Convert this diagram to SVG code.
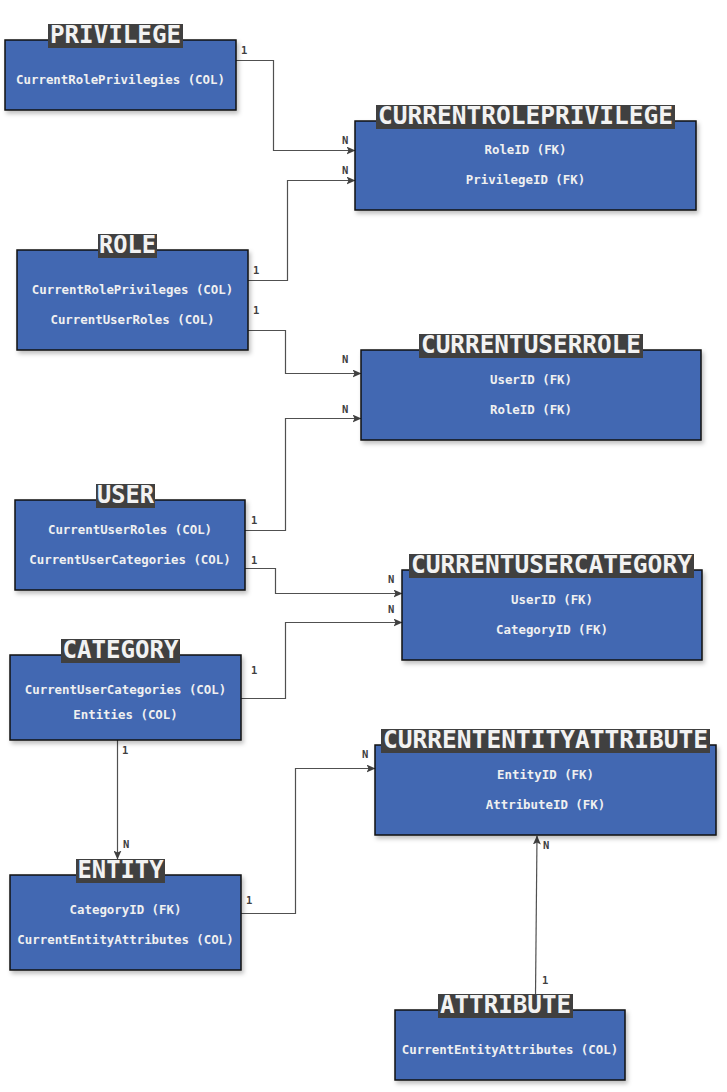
<svg xmlns="http://www.w3.org/2000/svg" width="727" height="1092" viewBox="0 0 727 1092">
<defs>
<filter id="sh" x="-10%" y="-10%" width="130%" height="140%"><feDropShadow dx="2" dy="3" stdDeviation="2" flood-color="#000" flood-opacity="0.25"/></filter>
<marker id="arr" markerWidth="9" markerHeight="8" refX="8.5" refY="4" orient="auto" markerUnits="userSpaceOnUse"><path d="M0,0 L9,4 L0,8 L2,4 z" fill="#404040"/></marker>
</defs>
<style>
.box{fill:#4267B2;stroke:#111;stroke-width:1.5;filter:url(#sh)}
.tbg{fill:#404040}
.ttl{font-family:"DejaVu Sans Mono","Liberation Mono",monospace;font-weight:bold;font-size:24px;fill:#f2f2f2;text-anchor:middle}
.fld{font-family:"DejaVu Sans Mono","Liberation Mono",monospace;font-weight:bold;font-size:12.4px;fill:#f0f0f0;text-anchor:middle}
.con{fill:none;stroke:#505050;stroke-width:1.2;marker-end:url(#arr)}
.lbl{font-family:"DejaVu Sans Mono","Liberation Mono",monospace;font-weight:bold;font-size:10.5px;fill:#404040}
</style>
<rect width="727" height="1092" fill="#fff"/>
<g id="connectors">
<path class="con" d="M236,60.5 H273.5 V150.5 H355"/>
<path class="con" d="M248,280.5 H287.5 V180.5 H355"/>
<path class="con" d="M248,330.5 H285.5 V373.5 H361"/>
<path class="con" d="M245,530.5 H285.5 V418.5 H361"/>
<path class="con" d="M245,568.5 H275.5 V593.5 H402"/>
<path class="con" d="M241,698.5 H285.5 V622.5 H402"/>
<path class="con" d="M117.5,740 V859"/>
<path class="con" d="M241,913.5 H295.5 V768.5 H375"/>
<path class="con" d="M535.5,995 L537,836"/>
<text class="lbl" x="241" y="54">1</text>
<text class="lbl" x="342" y="144">N</text>
<text class="lbl" x="342" y="174">N</text>
<text class="lbl" x="253" y="274">1</text>
<text class="lbl" x="253" y="314">1</text>
<text class="lbl" x="342" y="363">N</text>
<text class="lbl" x="342" y="413">N</text>
<text class="lbl" x="251" y="524">1</text>
<text class="lbl" x="251" y="564">1</text>
<text class="lbl" x="388" y="583">N</text>
<text class="lbl" x="388" y="613">N</text>
<text class="lbl" x="251" y="674">1</text>
<text class="lbl" x="122" y="754">1</text>
<text class="lbl" x="123" y="848">N</text>
<text class="lbl" x="246" y="904">1</text>
<text class="lbl" x="362" y="758">N</text>
<text class="lbl" x="542" y="984">1</text>
<text class="lbl" x="543" y="849">N</text>
</g>
<g id="privilege">
<rect class="box" x="5" y="40" width="231" height="70"/>
<rect class="tbg" x="48" y="24" width="135" height="24"/>
<text class="ttl" x="115.5" y="43" textLength="131" lengthAdjust="spacingAndGlyphs">PRIVILEGE</text>
<text class="fld" x="120.5" y="84">CurrentRolePrivilegies (COL)</text>
</g>
<g id="currentroleprivilege">
<rect class="box" x="355" y="121" width="341" height="89"/>
<rect class="tbg" x="376" y="105" width="299" height="24"/>
<text class="ttl" x="525.5" y="124" textLength="295" lengthAdjust="spacingAndGlyphs">CURRENTROLEPRIVILEGE</text>
<text class="fld" x="525.5" y="154">RoleID (FK)</text>
<text class="fld" x="525.5" y="184">PrivilegeID (FK)</text>
</g>
<g id="role">
<rect class="box" x="17" y="250" width="231" height="100"/>
<rect class="tbg" x="98" y="234" width="59" height="24"/>
<text class="ttl" x="127.5" y="253" textLength="57" lengthAdjust="spacingAndGlyphs">ROLE</text>
<text class="fld" x="132.5" y="294">CurrentRolePrivileges (COL)</text>
<text class="fld" x="132.5" y="324">CurrentUserRoles (COL)</text>
</g>
<g id="currentuserrole">
<rect class="box" x="361" y="350" width="340" height="90"/>
<rect class="tbg" x="419" y="334" width="224" height="24"/>
<text class="ttl" x="531" y="353" textLength="220" lengthAdjust="spacingAndGlyphs">CURRENTUSERROLE</text>
<text class="fld" x="531" y="384">UserID (FK)</text>
<text class="fld" x="531" y="414">RoleID (FK)</text>
</g>
<g id="user">
<rect class="box" x="15" y="500" width="230" height="90"/>
<rect class="tbg" x="96" y="484" width="59" height="24"/>
<text class="ttl" x="125.5" y="503" textLength="57" lengthAdjust="spacingAndGlyphs">USER</text>
<text class="fld" x="130" y="534">CurrentUserRoles (COL)</text>
<text class="fld" x="130" y="564">CurrentUserCategories (COL)</text>
</g>
<g id="currentusercategory">
<rect class="box" x="402" y="570" width="300" height="90"/>
<rect class="tbg" x="409" y="554" width="285" height="24"/>
<text class="ttl" x="551.5" y="573" textLength="281" lengthAdjust="spacingAndGlyphs">CURRENTUSERCATEGORY</text>
<text class="fld" x="552" y="604">UserID (FK)</text>
<text class="fld" x="552" y="634">CategoryID (FK)</text>
</g>
<g id="category">
<rect class="box" x="10" y="655" width="231" height="85"/>
<rect class="tbg" x="61" y="639" width="119" height="24"/>
<text class="ttl" x="120.5" y="658" textLength="116" lengthAdjust="spacingAndGlyphs">CATEGORY</text>
<text class="fld" x="125.5" y="694">CurrentUserCategories (COL)</text>
<text class="fld" x="125.5" y="719">Entities (COL)</text>
</g>
<g id="entity">
<rect class="box" x="10" y="875" width="231" height="95"/>
<rect class="tbg" x="76" y="859" width="89" height="24"/>
<text class="ttl" x="120.5" y="878" textLength="86" lengthAdjust="spacingAndGlyphs">ENTITY</text>
<text class="fld" x="125.5" y="914">CategoryID (FK)</text>
<text class="fld" x="125.5" y="944">CurrentEntityAttributes (COL)</text>
</g>
<g id="currententityattribute">
<rect class="box" x="375" y="745" width="341" height="90"/>
<rect class="tbg" x="381" y="729" width="329" height="24"/>
<text class="ttl" x="545.5" y="748" textLength="325" lengthAdjust="spacingAndGlyphs">CURRENTENTITYATTRIBUTE</text>
<text class="fld" x="545.5" y="779">EntityID (FK)</text>
<text class="fld" x="545.5" y="809">AttributeID (FK)</text>
</g>
<g id="attribute">
<rect class="box" x="395" y="1010" width="230" height="70"/>
<rect class="tbg" x="438" y="994" width="135" height="24"/>
<text class="ttl" x="505.5" y="1013" textLength="131" lengthAdjust="spacingAndGlyphs">ATTRIBUTE</text>
<text class="fld" x="510" y="1054">CurrentEntityAttributes (COL)</text>
</g>
</svg>
